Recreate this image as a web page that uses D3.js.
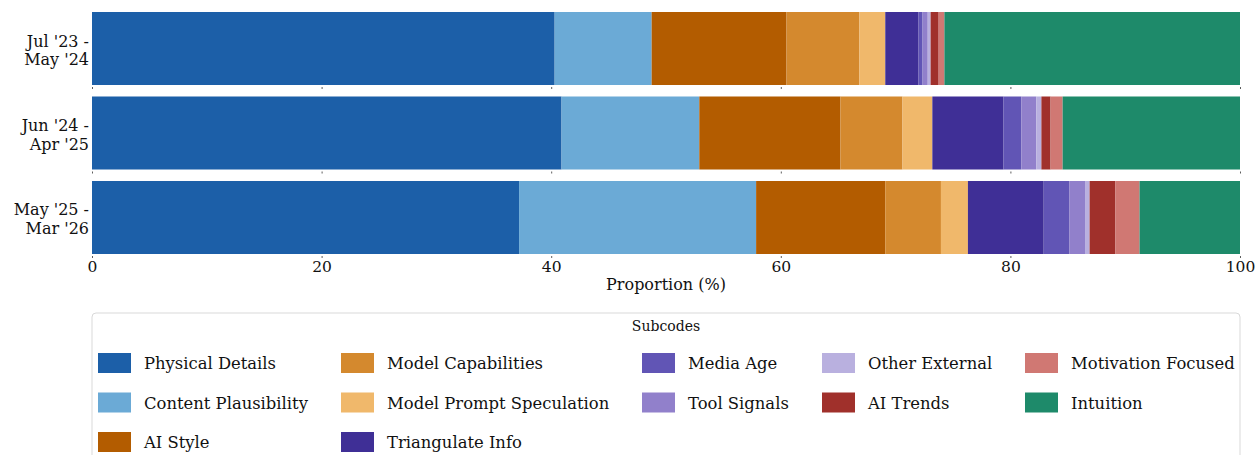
<!DOCTYPE html>
<html>
<head>
<meta charset="utf-8">
<script src="https://cdn.jsdelivr.net/npm/d3@7"></script>
<style>
  body { margin: 0; background: #fff; }
  text { font-family: "DejaVu Serif", serif; fill: #111; }
</style>
</head>
<body>
<div id="chart"></div>
<script>
var periods = ["Jul '23 -|May '24", "Jun '24 -|Apr '25", "May '25 -|Mar '26"];
var subcodes = ["Physical Details", "Content Plausibility", "AI Style", "Model Capabilities",
  "Model Prompt Speculation", "Triangulate Info", "Media Age", "Tool Signals",
  "Other External", "AI Trends", "Motivation Focused", "Intuition"];
var colors = ["#1c5fa8", "#6baad6", "#b35c00", "#d4892e", "#f0b86b", "#3f2f96",
  "#6155b5", "#9180cb", "#b9b0df", "#a0302b", "#d07873", "#1e8a6a"];

// proportions (%) per period, in subcode order
var jul23May24 = [40.3, 8.45, 11.75, 6.35, 2.25, 2.9, 0.35, 0.45, 0.25, 0.7, 0.5, 25.75];
var jun24Apr25 = [40.9, 12.0, 12.3, 5.4, 2.6, 6.2, 1.55, 1.3, 0.45, 0.8, 1.05, 15.45];
var may25Mar26 = [37.2, 20.65, 11.25, 4.85, 2.35, 6.6, 2.25, 1.4, 0.35, 2.25, 2.1, 8.75];
var xTicks = [0, 20, 40, 60, 80, 100];

// legend columns (matplotlib style column fill)
var legendCols = [[0, 1, 2], [3, 4, 5], [6, 7], [8, 9], [10, 11]];

var svgWidth = 1257;
var svgHeight = 455;
var margin = { left: 92, right: 17, top: 12 };
var width = svgWidth - margin.left - margin.right;

var svg = d3.select("#chart").append("svg")
  .attr("width", svgWidth)
  .attr("height", svgHeight);

var rows = [jul23May24, jun24Apr25, may25Mar26].map(function(vals, i) {
  var r = { period: periods[i] };
  subcodes.forEach(function(s, j) { r[s] = vals[j]; });
  return r;
});

var stacked = d3.stack().keys(subcodes)(rows);

var x = d3.scaleLinear().domain([0, 100]).range([0, width]);
var y = d3.scaleBand().domain(periods).range([0, 242]).paddingInner(0.136).paddingOuter(0);

var chart = svg.append("g").attr("transform", `translate(${margin.left}, ${margin.top})`);

chart.selectAll("g.layer")
  .data(stacked)
  .enter().append("g")
  .attr("class", "layer")
  .attr("fill", function(d, i) { return colors[i]; })
  .selectAll("rect")
  .data(function(d) { return d; })
  .enter().append("rect")
  .attr("x", function(d) { return x(d[0]); })
  .attr("width", function(d) { return x(d[1]) - x(d[0]); })
  .attr("y", function(d) { return y(d.data.period); })
  .attr("height", y.bandwidth());

// small ticks under each subplot
periods.forEach(function(p, i) {
  var last = i === periods.length - 1;
  var ax = chart.append("g")
    .attr("transform", `translate(0, ${y(p) + y.bandwidth() + 2})`)
    .call(d3.axisBottom(x).tickValues(xTicks).tickSize(2).tickPadding(3)
      .tickFormat(last ? d3.format("d") : ""));
  ax.select(".domain").remove();
  ax.selectAll("line").attr("stroke", "#333").attr("stroke-width", 0.8);
  ax.selectAll("text").style("font-size", "15.5px").attr("fill", "#111");
});

// period labels
periods.forEach(function(p) {
  var parts = p.split("|");
  var cy = y(p) + y.bandwidth() / 2;
  var t = chart.append("text")
    .attr("x", -3)
    .attr("y", cy - 7)
    .attr("text-anchor", "end")
    .attr("dominant-baseline", "middle")
    .style("font-size", "16px");
  t.append("tspan").attr("x", -3).attr("dy", 0).text(parts[0]);
  t.append("tspan").attr("x", -3).attr("dy", 18.5).text(parts[1]);
});

chart.append("text")
  .attr("x", width / 2)
  .attr("y", 278)
  .attr("text-anchor", "middle")
  .style("font-size", "16px")
  .text("Proportion (%)");

// legend
var lg = svg.append("g").attr("transform", "translate(92, 313)");
lg.append("rect")
  .attr("width", 1148).attr("height", 160)
  .attr("rx", 4)
  .attr("fill", "#fff")
  .attr("stroke", "#d9d9d9");
lg.append("text")
  .attr("x", 574).attr("y", 18)
  .attr("text-anchor", "middle")
  .style("font-size", "14px")
  .text("Subcodes");

var colX = [6, 249, 550, 730, 933];
legendCols.forEach(function(col, ci) {
  col.forEach(function(idx, ri) {
    var g = lg.append("g").attr("transform", `translate(${colX[ci]}, ${40 + ri * 39.5})`);
    g.append("rect").attr("width", 33).attr("height", 20).attr("fill", colors[idx]);
    g.append("text").attr("x", 46).attr("y", 16)
      .style("font-size", "16.4px")
      .text(subcodes[idx]);
  });
});
</script>
</body>
</html>
